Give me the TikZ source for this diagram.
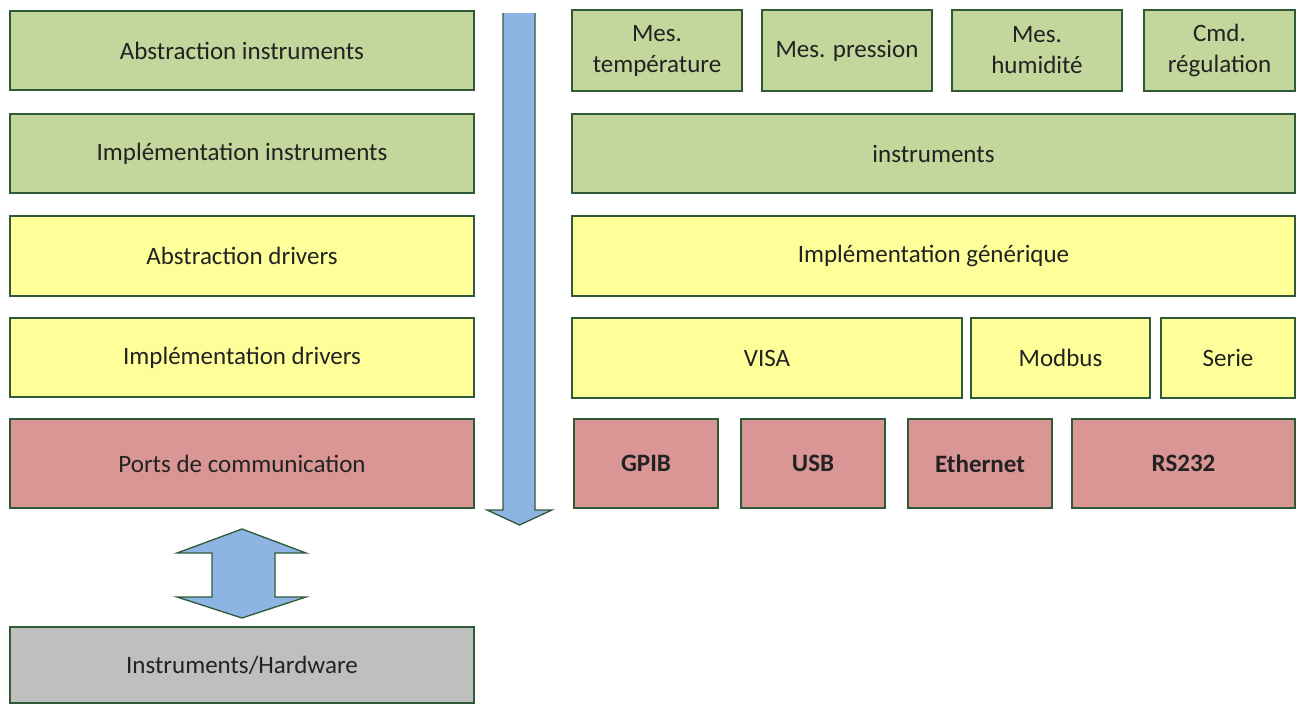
\documentclass[tikz,border=0pt]{standalone}
\usepackage{fontspec}
\setmainfont{Carlito}
\definecolor{gfill}{HTML}{C3D69B}
\definecolor{yfill}{HTML}{FFFF99}
\definecolor{rfill}{HTML}{D99694}
\definecolor{grfill}{HTML}{BFBFBF}
\definecolor{bfill}{HTML}{8EB4E3}
\definecolor{edge}{HTML}{2E5A36}
\definecolor{txt}{HTML}{222222}
\newcommand\bx[7]{\node[box,#6,minimum width={#4-#2},minimum height={#5-#3}] (#1) at ({(#2+#4)/2},{(#3+#5)/2}) {#7};}
\begin{document}
\begin{tikzpicture}[x=1pt,y=-1pt,
  box/.style={draw=edge, line width=1.5pt, inner sep=0pt, outer sep=0pt, text=txt,
    font=\fontsize{25}{31}\selectfont, align=center},
  green/.style={fill=gfill}, yellow/.style={fill=yfill}, red/.style={fill=rfill},
  grey/.style={fill=grfill}, bold/.style={font=\fontsize{25}{31}\selectfont\bfseries},
  blockarrow/.style={fill=bfill}, arrowedge/.style={draw=edge, line width=1.3pt, line join=miter}]
\useasboundingbox (0,0) rectangle (1301,704);
% left column
\bx{a1}{10}{11}{474}{90}{green}{Abstraction instruments}
\bx{a2}{10}{114}{474}{193}{green}{Implémentation instruments}
\bx{a3}{10}{216}{474}{296}{yellow}{Abstraction drivers}
\bx{a4}{10}{318}{474}{397}{yellow}{Implémentation drivers}
\bx{a5}{10}{419}{474}{508}{red}{Ports de communication}
\bx{hw}{10}{627}{474}{703}{grey}{Instruments/Hardware}
% right column
\bx{t1}{572}{10}{742}{91}{green}{Mes.\\température}
\bx{t2}{762}{10}{932}{91}{green}{Mes. pression}
\bx{t3}{952}{10}{1122}{91}{green}{Mes.\\humidité}
\bx{t4}{1144}{10}{1295}{91}{green}{Cmd.\\régulation}
\bx{inst}{572}{114}{1295}{193}{green}{instruments}
\bx{gen}{572}{216}{1295}{296}{yellow}{Implémentation générique}
\bx{visa}{572}{318}{962}{398}{yellow}{VISA}
\bx{modbus}{971}{318}{1150}{398}{yellow}{Modbus}
\bx{serie}{1161}{318}{1295}{398}{yellow}{Serie}
\bx{gpib}{574}{419}{718}{508}{red,bold}{GPIB}
\bx{usb}{741}{419}{885}{508}{red,bold}{USB}
\bx{eth}{908}{419}{1052}{508}{red,bold}{Ethernet}
\bx{rs}{1072}{419}{1295}{508}{red,bold}{RS232}
% down arrow
\fill[blockarrow] (503,13) -- (503,510) -- (487,510) -- (519.5,525) -- (552,510) -- (535,510) -- (535,13) -- cycle;
\draw[arrowedge] (503,13) -- (503,510) -- (487,510) -- (519.5,525) -- (552,510) -- (535,510) -- (535,13);
% double arrow
\filldraw[blockarrow, arrowedge] (242,529) -- (306,553) -- (275,553) -- (275,597) -- (306,597) -- (242,618)
  -- (177,597) -- (212,597) -- (212,553) -- (177,553) -- cycle;
\end{tikzpicture}
\end{document}
